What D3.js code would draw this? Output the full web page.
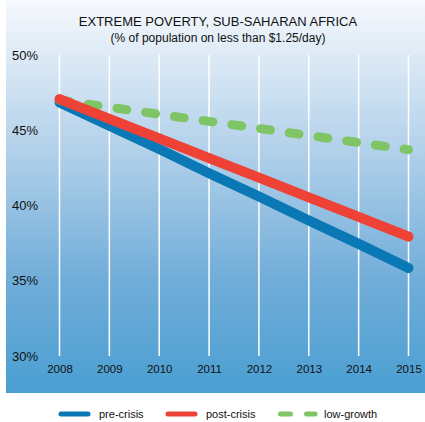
<!DOCTYPE html>
<html>
<head>
<meta charset="utf-8">
<script src="https://cdn.jsdelivr.net/npm/d3@7"></script>
<style>
  html, body { margin: 0; padding: 0; background: #fff; }
  svg { display: block; font-family: "Liberation Sans", Arial, sans-serif; }
</style>
</head>
<body>
<svg id="chart" width="425" height="422"></svg>
<script>
// ---- data ----
const years = [2008, 2009, 2010, 2011, 2012, 2013, 2014, 2015];
const preCrisis  = [46.85, 45.3, 43.75, 42.15, 40.6, 39.0, 37.45, 35.85];
const postCrisis = [47.07, 45.76, 44.46, 43.15, 41.85, 40.54, 39.24, 37.93];
const lowGrowth  = [47.0, 46.53, 46.06, 45.59, 45.12, 44.65, 44.18, 43.71];
const yTicks = [30, 35, 40, 45, 50];
const seriesNames = ["pre-crisis", "post-crisis", "low-growth"];
const titleText = "EXTREME POVERTY, SUB-SAHARAN AFRICA";
const subtitleText = "(% of population on less than $1.25/day)";

const svg = d3.select("#chart");

// background gradient
const defs = svg.append("defs");
const grad = defs.append("linearGradient").attr("id", "bg")
  .attr("x1", 0).attr("y1", 0).attr("x2", 0).attr("y2", 1);
grad.append("stop").attr("offset", "0").attr("stop-color", "#f6f9fd");
grad.append("stop").attr("offset", "0.36").attr("stop-color", "#b6d3eb");
grad.append("stop").attr("offset", "0.71").attr("stop-color", "#71add9");
grad.append("stop").attr("offset", "1").attr("stop-color", "#4a9fd2");
svg.append("rect").attr("x", 6).attr("y", 0).attr("width", 419).attr("height", 393)
  .attr("fill", "url(#bg)");

// scales
const x = d3.scaleLinear().domain([2008, 2015]).range([59.5, 408.5]);
const y = d3.scaleLinear().domain([30, 50]).range([356, 55]);

// vertical gridlines
svg.append("g").selectAll("line").data(years).join("line")
  .attr("x1", d => x(d)).attr("x2", d => x(d))
  .attr("y1", y(50)).attr("y2", y(30))
  .attr("stroke", "#ffffff").attr("stroke-width", 1.5);

// x axis labels
const xAxis = d3.axisBottom(x).tickValues(years).tickFormat(d3.format("d")).tickSize(0).tickPadding(0);
const gx = svg.append("g").attr("transform", "translate(0,365)").call(xAxis);
gx.select(".domain").remove();
gx.selectAll("text").attr("font-size", 11.5).attr("fill", "#111")
  .attr("font-family", "'Liberation Sans', Arial, sans-serif").attr("dy", "0.71em");

// y axis labels
const yAxis = d3.axisLeft(y).tickValues(yTicks).tickFormat(d => d + "%").tickSize(0);
const gy = svg.append("g").call(yAxis);
gy.select(".domain").remove();
gy.selectAll("text").attr("text-anchor", "start").attr("x", 12)
  .attr("font-size", 13).attr("fill", "#111")
  .attr("font-family", "'Liberation Sans', Arial, sans-serif");

// lines
const line = d3.line().x((d, i) => x(years[i])).y(d => y(d));

svg.append("path").datum(preCrisis).attr("d", line)
  .attr("fill", "none").attr("stroke", "#0a78b4").attr("stroke-width", 10)
  .attr("stroke-linecap", "round").attr("stroke-linejoin", "round");
svg.append("path").datum(lowGrowth).attr("d", line)
  .attr("fill", "none").attr("stroke", "#7fc465").attr("stroke-width", 9)
  .attr("stroke-linecap", "round").attr("stroke-dasharray", "10,19");
svg.append("path").datum(postCrisis).attr("d", line)
  .attr("fill", "none").attr("stroke", "#ee4237").attr("stroke-width", 10)
  .attr("stroke-linecap", "round").attr("stroke-linejoin", "round");

// title
svg.append("text").attr("x", 218).attr("y", 26).attr("text-anchor", "middle")
  .attr("font-size", 13).attr("fill", "#111").text(titleText);
svg.append("text").attr("x", 218).attr("y", 42).attr("text-anchor", "middle")
  .attr("font-size", 12).attr("fill", "#111").text(subtitleText);

// legend
const legend = [
  { name: seriesNames[0], color: "#0a78b4", x1: 61, x2: 88, dash: null, tx: 99 },
  { name: seriesNames[1], color: "#ee4237", x1: 168, x2: 195, dash: null, tx: 206 },
  { name: seriesNames[2], color: "#7fc465", x1: 280.5, x2: 315, dash: "10,16", tx: 324 }
];
const lg = svg.append("g");
legend.forEach(l => {
  lg.append("line").attr("x1", l.x1).attr("x2", l.x2).attr("y1", 414).attr("y2", 414)
    .attr("stroke", l.color).attr("stroke-width", 5).attr("stroke-linecap", "round")
    .attr("stroke-dasharray", l.dash);
  lg.append("text").attr("x", l.tx).attr("y", 418).attr("font-size", 11)
    .attr("fill", "#111").text(l.name);
});
</script>
</body>
</html>
